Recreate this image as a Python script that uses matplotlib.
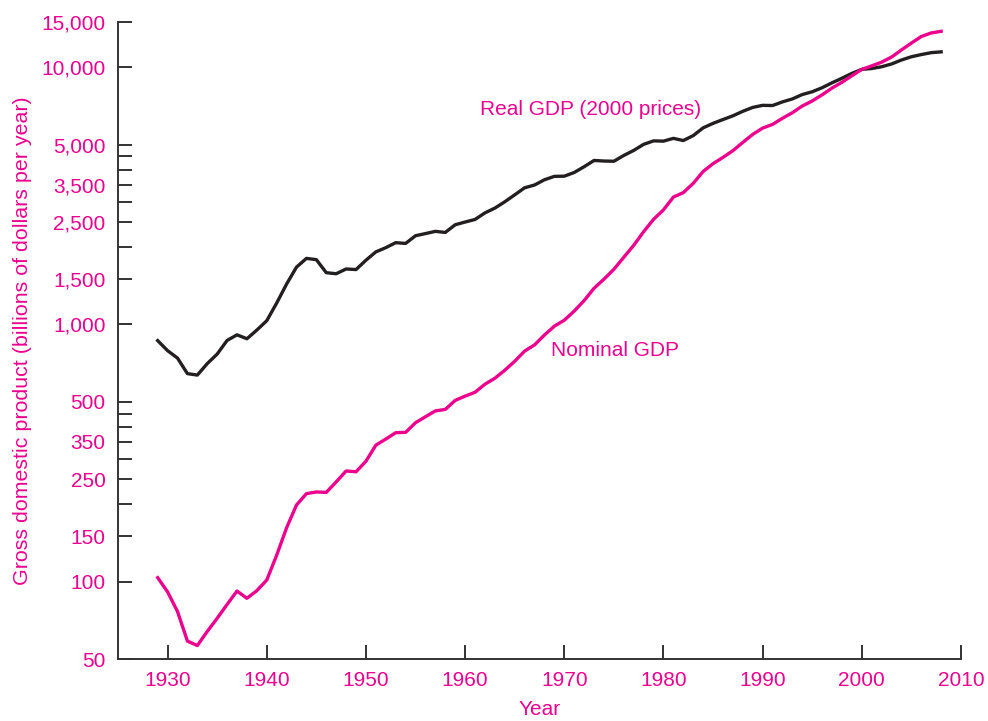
import matplotlib.pyplot as plt
from matplotlib.ticker import NullLocator

plt.rcParams['font.family'] = ['Liberation Sans', 'DejaVu Sans']

PINK = '#EC008C'
DARK = '#231F20'

# GDP, billions of dollars per year
years = list(range(1929, 2009))

nominal_gdp = [
    103.6, 91.2, 76.5, 58.7, 56.4, 64.0, 72.0, 81.5, 91.9, 86.1,
    92.2, 101.4, 126.7, 161.9, 198.6, 219.8, 223.1, 222.3, 244.2, 269.2,
    267.3, 293.8, 339.3, 358.3, 379.4, 380.4, 414.8, 437.5, 461.1, 467.2,
    506.6, 526.4, 544.7, 585.6, 617.7, 663.6, 719.1, 787.8, 832.6, 910.0,
    984.6, 1038.5, 1127.1, 1238.3, 1382.7, 1500.0, 1638.3, 1825.3, 2030.9, 2294.7,
    2563.3, 2789.5, 3128.4, 3255.0, 3536.7, 3933.2, 4220.3, 4462.8, 4739.5, 5103.8,
    5484.4, 5803.1, 5995.9, 6337.7, 6657.4, 7072.2, 7397.7, 7816.9, 8304.3, 8747.0,
    9268.4, 9817.0, 10128.0, 10469.6, 10960.8, 11685.9, 12421.9, 13178.4, 13600.0, 13800.0,
]

real_gdp = [
    865.2, 790.7, 739.9, 643.7, 635.5, 704.2, 766.9, 866.6, 911.1, 879.7,
    950.7, 1034.1, 1211.1, 1435.4, 1670.9, 1806.5, 1786.3, 1589.4, 1574.5, 1643.2,
    1634.6, 1777.3, 1915.0, 1988.3, 2079.5, 2065.4, 2212.8, 2255.8, 2301.1, 2279.2,
    2441.3, 2501.8, 2560.0, 2715.2, 2834.0, 2998.6, 3191.1, 3399.1, 3484.6, 3652.7,
    3765.4, 3771.9, 3898.6, 4105.0, 4341.5, 4319.6, 4311.2, 4540.9, 4750.5, 5015.0,
    5173.4, 5161.7, 5291.7, 5189.3, 5423.8, 5813.6, 6053.7, 6263.6, 6475.1, 6742.7,
    6981.4, 7112.5, 7100.5, 7336.6, 7532.7, 7835.5, 8031.7, 8328.9, 8703.5, 9066.9,
    9470.3, 9817.0, 9890.7, 10048.8, 10301.0, 10675.8, 10989.5, 11206.0, 11400.0, 11480.0,
]

y_ticks = [50, 100, 150, 200, 250, 300, 350, 400, 450, 500,
           1000, 1500, 2000, 2500, 3000, 3500, 4000, 4500, 5000, 10000, 15000]
y_labels = ['50', '100', '150', '', '250', '', '350', '', '', '500',
            '1,000', '1,500', '', '2,500', '', '3,500', '', '', '5,000', '10,000', '15,000']
x_ticks = [1930, 1940, 1950, 1960, 1970, 1980, 1990, 2000, 2010]

fig = plt.figure(figsize=(9.88, 7.21), dpi=100)
ax = fig.add_axes([118 / 988, 1 - 659 / 721, (961 - 118) / 988, (659 - 22) / 721])

ax.plot(years, real_gdp, color=DARK, lw=2.4, solid_joinstyle='round')
ax.plot(years, nominal_gdp, color=PINK, lw=2.4, solid_joinstyle='round')

ax.set_yscale('log')
ax.set_xlim(1925, 2010)
ax.set_ylim(50, 15000)
ax.set_yticks(y_ticks)
ax.set_yticklabels(y_labels)
ax.yaxis.set_minor_locator(NullLocator())
ax.set_xticks(x_ticks)

for side in ['top', 'right']:
    ax.spines[side].set_visible(False)
for side in ['left', 'bottom']:
    ax.spines[side].set_color('#333333')
    ax.spines[side].set_linewidth(1.4)

ax.tick_params(direction='in', length=10, width=1.4, color='#333333',
               labelcolor=PINK, labelsize=15)
ax.tick_params(axis='y', pad=9)
ax.tick_params(axis='x', pad=9)

ax.set_xlabel('Year', color=PINK, fontsize=15, labelpad=7)
ax.set_ylabel('Gross domestic product (billions of dollars per year)',
              color=PINK, fontsize=15.4, labelpad=7)

ax.text(1961.5, 6850, 'Real GDP (2000 prices)', color=PINK, fontsize=15,
        ha='left', va='center')
ax.text(1968.7, 790, 'Nominal GDP', color=PINK, fontsize=15,
        ha='left', va='center')

fig.savefig('out.png', dpi=100)
